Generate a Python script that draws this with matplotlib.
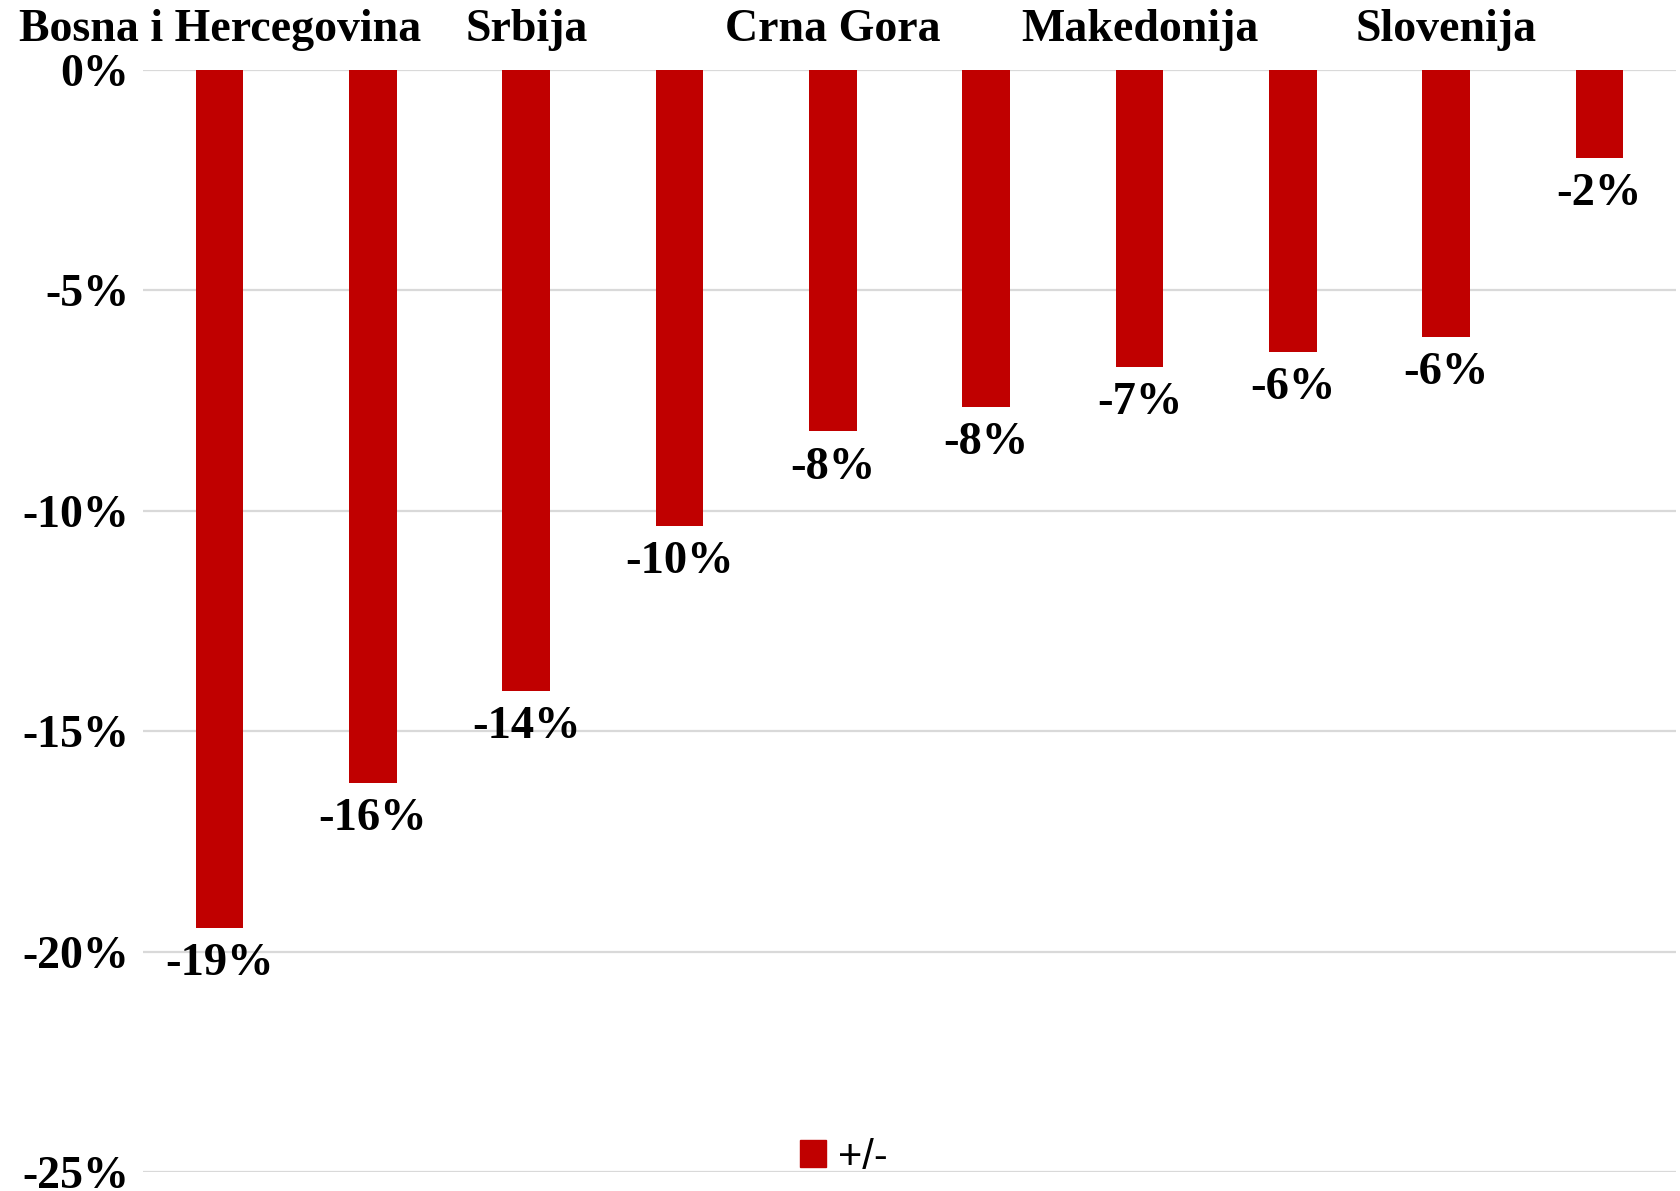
import matplotlib.pyplot as plt
from matplotlib.patches import Patch
from matplotlib.ticker import FuncFormatter

# Data (percent change)
categories = ["Bosna i Hercegovina", "", "Srbija", "", "Crna Gora", "",
              "Makedonija", "", "Slovenija", ""]
values = [-19.46, -16.18, -14.09, -10.34, -8.2, -7.64, -6.74, -6.4, -6.06, -2.0]
series_name = "+/-"

BAR_COLOR = "#c00000"
GRID_COLOR = "#d9d9d9"
SERIF = "Liberation Serif"
SANS = "Liberation Sans"

fig = plt.figure(figsize=(16.81, 11.91), dpi=100)
ax = fig.add_axes([143 / 1681, 19 / 1191, (1676 - 143) / 1681, (1172 - 70) / 1191])

x = list(range(len(values)))
ax.bar(x, values, width=0.31, color=BAR_COLOR, zorder=3)

for xi, v in zip(x, values):
    ax.annotate(f"{round(v)}%", (xi, v), xytext=(0, -11), textcoords="offset points",
                ha="center", va="top", fontsize=33.5, fontweight="bold",
                family=SERIF, zorder=4)

ax.set_xlim(-0.5, len(values) - 0.5)
ax.set_ylim(-25, 0)
ax.set_yticks([0, -5, -10, -15, -20, -25])
ax.yaxis.set_major_formatter(FuncFormatter(lambda v, p: f"{v:.0f}%"))
ax.grid(axis="y", color=GRID_COLOR, lw=1.6, zorder=0)
ax.set_axisbelow(True)

# category labels on top
ax.xaxis.tick_top()
ax.set_xticks(x)
ax.set_xticklabels(categories)
ax.tick_params(axis="x", length=0, pad=14)
ax.tick_params(axis="y", length=0, pad=10)
for lab in ax.get_xticklabels() + ax.get_yticklabels():
    lab.set_fontfamily(SERIF)
    lab.set_fontweight("bold")
    lab.set_fontsize(33)

for s in ax.spines.values():
    s.set_visible(False)

fig.legend(handles=[Patch(color=BAR_COLOR, label=series_name)], loc="center",
           bbox_to_anchor=(0.502, 0.028), frameon=False,
           prop={"family": SANS, "size": 30},
           handlelength=0.62, handleheight=0.62, handletextpad=0.3)

fig.savefig("out.png", dpi=100, facecolor="white")
